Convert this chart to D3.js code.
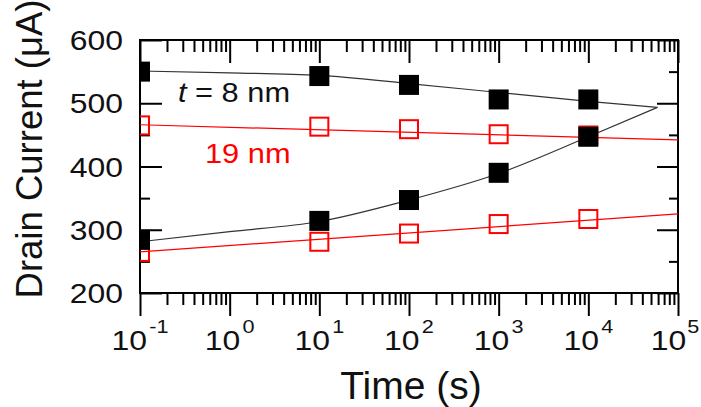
<!DOCTYPE html>
<html>
<head>
<meta charset="utf-8">
<script src="https://cdn.jsdelivr.net/npm/d3@7"></script>
<style>
  body { margin: 0; background: #fff; }
  svg text { font-family: "Liberation Sans", Arial, sans-serif; }
</style>
</head>
<body>
<svg id="chart" width="701" height="407"></svg>
<script>
// measured points (time in s, drain current in uA)
const times = [0.1, 10, 100, 1000, 10000];
const thin8High = [550, 543, 529, 506, 506];
const thin8Low = [284, 314, 347, 390, 447];
const thick19High = [465, 463, 459, 451, 449];
const thick19Low = [265, 281, 294, 309, 317];

// fitted curves
const fitTimes8 = [0.1, 1, 10, 100, 1000, 10000, 59000];
const fit8High = [551, 548, 544, 531, 517, 503, 493.5];
const fit8Low = [281, 297, 313, 347, 389, 447, 493.5];
const fitTimes19 = [0.1, 100000];
const fit19High = [466, 442];
const fit19Low = [265, 325];

const xDecades = [0.1, 1, 10, 100, 1000, 10000, 100000];
const xExponents = ["-1", "0", "1", "2", "3", "4", "5"];
const yMajor = [200, 300, 400, 500, 600];
const yMinor = [250, 350, 450, 550];

const margin = { left: 140, top: 40, right: 23, bottom: 114 };
const width = 701, height = 407;
const plotW = width - margin.left - margin.right;
const plotH = height - margin.top - margin.bottom;

const svg = d3.select("#chart");

const x = d3.scaleLog().domain([0.1, 100000]).range([0, plotW]);
const y = d3.scaleLinear().domain([200, 600]).range([plotH, 0]);

const g = svg.append("g").attr("transform", "translate(" + margin.left + "," + margin.top + ")");

svg.append("defs").append("clipPath").attr("id", "plotClip")
  .append("rect").attr("width", plotW).attr("height", plotH);

// minor x ticks: 2..9 in each decade
let xMinor = [];
xDecades.slice(0, -1).forEach(function (d) {
  for (let k = 2; k <= 9; k++) xMinor.push(d * k);
});

function styleAxis(sel) {
  sel.select(".domain").remove();
  sel.selectAll(".tick line").attr("stroke", "#000").attr("stroke-width", 2);
  sel.selectAll(".tick text").remove();
}

// bottom ticks point outward, the mirrored ones inward
g.append("g").attr("transform", "translate(0," + plotH + ")")
  .call(d3.axisBottom(x).tickValues(xDecades).tickSize(23).tickFormat("")).call(styleAxis);
g.append("g").attr("transform", "translate(0," + plotH + ")")
  .call(d3.axisBottom(x).tickValues(xMinor).tickSize(12).tickFormat("")).call(styleAxis);
g.append("g")
  .call(d3.axisTop(x).tickValues(xDecades).tickSize(-23).tickFormat("")).call(styleAxis);
g.append("g")
  .call(d3.axisTop(x).tickValues(xMinor).tickSize(-12).tickFormat("")).call(styleAxis);
g.append("g")
  .call(d3.axisLeft(y).tickValues(yMajor).tickSize(-22).tickFormat("")).call(styleAxis);
g.append("g")
  .call(d3.axisLeft(y).tickValues(yMinor).tickSize(-10).tickFormat("")).call(styleAxis);
g.append("g").attr("transform", "translate(" + plotW + ",0)")
  .call(d3.axisRight(y).tickValues(yMajor).tickSize(-21).tickFormat("")).call(styleAxis);
g.append("g").attr("transform", "translate(" + plotW + ",0)")
  .call(d3.axisRight(y).tickValues(yMinor).tickSize(-9).tickFormat("")).call(styleAxis);

// frame
g.append("rect")
  .attr("width", plotW).attr("height", plotH)
  .attr("fill", "none").attr("stroke", "#000").attr("stroke-width", 2);

// tick labels
const stretch = 1.14;
yMajor.forEach(function (v) {
  g.append("text")
    .attr("transform", "translate(-17," + (y(v) + 10) + ") scale(" + stretch + ",1)")
    .attr("text-anchor", "end")
    .attr("font-size", 28)
    .attr("fill", "#111")
    .text(v);
});

xDecades.forEach(function (v, i) {
  let last = i === xDecades.length - 1;
  let t = g.append("text")
    .attr("transform", "translate(" + (last ? x(v) - 3 : x(v)) + "," + (plotH + 57) + ") scale(" + stretch + ",1)")
    .attr("text-anchor", "middle")
    .attr("font-size", 28)
    .attr("fill", "#111");
  t.append("tspan").text("10");
  t.append("tspan").attr("dx", last ? 1 : 2).attr("dy", -17).attr("font-size", 19).text(xExponents[i]);
});

// axis titles
svg.append("text")
  .attr("x", margin.left + plotW / 2 + 2)
  .attr("y", 399)
  .attr("text-anchor", "middle")
  .attr("font-size", 39)
  .attr("fill", "#111")
  .text("Time (s)");

svg.append("text")
  .attr("transform", "translate(42,149) rotate(-90)")
  .attr("text-anchor", "middle")
  .attr("font-size", 36.5)
  .attr("fill", "#111")
  .text("Drain Current (μA)");

// fitted lines
const plot = g.append("g").attr("clip-path", "url(#plotClip)");

function fitLine(ts, vs) {
  return d3.line()
    .x(function (d) { return x(d[0]); })
    .y(function (d) { return y(d[1]); })
    .curve(d3.curveMonotoneX)(ts.map(function (t, i) { return [t, vs[i]]; }));
}

[[fitTimes19, fit19High], [fitTimes19, fit19Low]].forEach(function (f) {
  plot.append("path").attr("d", fitLine(f[0], f[1]))
    .attr("fill", "none").attr("stroke", "#ff0000").attr("stroke-width", 1.2);
});
[[fitTimes8, fit8High], [fitTimes8, fit8Low]].forEach(function (f) {
  plot.append("path").attr("d", fitLine(f[0], f[1]))
    .attr("fill", "none").attr("stroke", "#333").attr("stroke-width", 1.2);
});

// markers
const sq = 20;
[thick19High, thick19Low].forEach(function (vals) {
  plot.selectAll(null).data(times).enter().append("rect")
    .attr("x", function (d) { return x(d) - sq / 2 + 1; })
    .attr("y", function (d, i) { return y(vals[i]) - sq / 2 + 1; })
    .attr("width", sq - 2).attr("height", sq - 2)
    .attr("fill", "none").attr("stroke", "#ff0000").attr("stroke-width", 2);
});
[thin8High, thin8Low].forEach(function (vals) {
  plot.selectAll(null).data(times).enter().append("rect")
    .attr("x", function (d) { return x(d) - sq / 2; })
    .attr("y", function (d, i) { return y(vals[i]) - sq / 2; })
    .attr("width", sq).attr("height", sq)
    .attr("fill", "#000");
});

// annotations
g.append("text")
  .attr("transform", "translate(" + (178 - margin.left) + "," + (102 - margin.top) + ") scale(" + stretch + ",1)")
  .attr("font-size", 27)
  .attr("fill", "#111")
  .html('<tspan font-style="italic">t</tspan> = 8 nm');

g.append("text")
  .attr("transform", "translate(" + (205 - margin.left) + "," + (163 - margin.top) + ") scale(" + stretch + ",1)")
  .attr("font-size", 27)
  .attr("fill", "#ff0000")
  .text("19 nm");
</script>
</body>
</html>
